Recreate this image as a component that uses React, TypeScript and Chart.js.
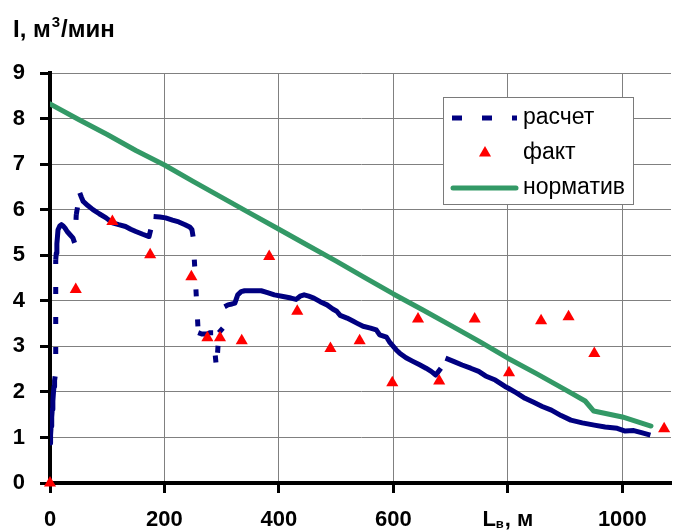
import React, { useEffect, useRef } from 'react';
import { Chart, registerables } from 'chart.js';

Chart.register(...registerables);

const FONT = '"Liberation Sans", Arial, sans-serif';

// "расчет" (calculated) curve
const calcX = [
  0, 1, 2, 3, 4, 5, 6, 7, 8, 9,
  10, 11, 12, 13, 14, 17, 20, 23, 26, 30, 35, 40, 43,
  46, 48, 52, 55, 58, 66, 75, 86, 98, 109, 120, 132, 141, 150, 162, 173, 176,
  181, 192, 202, 214, 225, 236, 244, 248, 250,
  259, 265, 274, 280, 285, 291, 295, 302,
  305, 311, 318, 323, 328, 334, 340, 355, 369, 380, 392, 405, 421, 430, 437, 444, 452, 461, 472, 484, 494, 501, 507, 519, 530, 536, 547, 560, 570, 576, 588, 593, 605, 611, 622, 634, 645, 657, 666, 674, 683,
  691, 705, 720, 735, 749, 761, 778, 795, 801, 815, 830, 845, 860, 876, 893, 910, 930, 951, 970, 991, 1005, 1020, 1035, 1049,
];
const calcY = [
  0.88, 1.05, 1.25, 1.45, 1.62, 1.8, 1.98, 2.12, 2.25, 2.34,
  4.9, 5.05, 5.25, 5.4, 5.56, 5.64, 5.67, 5.64, 5.6, 5.52, 5.45, 5.38, 5.27,
  5.9, 6.05, 6.37, 6.27, 6.18, 6.09, 6.0, 5.91, 5.82, 5.71, 5.67, 5.63, 5.57, 5.52, 5.46, 5.41, 5.56,
  5.85, 5.84, 5.82, 5.77, 5.73, 5.67, 5.62, 5.56, 5.41,
  3.3, 3.27, 3.27, 3.3, 3.3, 2.5, 3.3, 3.4,
  3.87, 3.91, 3.93, 3.95, 4.13, 4.2, 4.22, 4.22, 4.22, 4.18, 4.13, 4.1, 4.06, 4.03, 4.1, 4.13, 4.1, 4.06, 3.98, 3.91, 3.82, 3.77, 3.68, 3.62, 3.55, 3.51, 3.44, 3.4, 3.36, 3.25, 3.2, 3.1, 2.92, 2.85, 2.75, 2.67, 2.6, 2.52, 2.45, 2.37, 2.52,
  2.74, 2.67, 2.59, 2.52, 2.45, 2.35, 2.26, 2.12, 2.08, 1.98, 1.86, 1.77, 1.68, 1.6, 1.48, 1.38, 1.32, 1.27, 1.23, 1.2, 1.14, 1.15, 1.1, 1.05,
];

// "факт" (measured) points
const factX = [0, 45, 109, 175, 247, 275, 297, 335, 383, 432, 490, 541, 598, 643, 680, 742, 802, 858, 906, 951, 1073];
const factY = [0, 4.25, 5.74, 5.01, 4.53, 3.19, 3.19, 3.12, 4.97, 3.77, 2.95, 3.12, 2.2, 3.6, 2.24, 3.6, 2.42, 3.56, 3.65, 2.84, 1.19];

// "норматив" (norm) line
const normX = [0, 50, 100, 150, 200, 250, 300, 350, 400, 450, 500, 550, 600, 650, 700, 750, 800, 850, 900, 935, 950, 1000, 1050];
const normY = [8.32, 7.98, 7.65, 7.3, 6.98, 6.62, 6.27, 5.92, 5.57, 5.22, 4.87, 4.51, 4.15, 3.81, 3.46, 3.11, 2.74, 2.4, 2.05, 1.8, 1.58, 1.45, 1.25];

const seriesNames = ['расчет', 'факт', 'норматив'];
const xAxisMin = 0;
const xAxisMax = 1085;
const xStep = 200;
const yAxisMin = 0;
const yAxisMax = 9;
const yStep = 1;
const xAxisTitleAt = 800;
const yTitleMain = 'I, м';
const yTitleSup = '3';
const yTitleTail = '/мин';
const xTitleMain = 'L';
const xTitleSub = 'в';
const xTitleTail = ', м';

const BLUE = '#000080';
const RED = '#ff0000';
const GREEN = '#339966';

const toPoints = (xs: number[], ys: number[]) => xs.map((x, i) => ({ x, y: ys[i] }));

const titlePlugin = {
  id: 'customTexts',
  afterDraw(chart: any) {
    const ctx = chart.ctx as CanvasRenderingContext2D;
    ctx.save();
    ctx.fillStyle = '#000';
    ctx.textBaseline = 'alphabetic';
    ctx.textAlign = 'left';
    // y-axis title
    let x = 13;
    const base = 37;
    ctx.font = `bold 24px ${FONT}`;
    ctx.fillText(yTitleMain, x, base);
    x += ctx.measureText(yTitleMain).width + 1;
    ctx.font = `bold 15px ${FONT}`;
    ctx.fillText(yTitleSup, x, base - 10);
    x += ctx.measureText(yTitleSup).width + 1;
    ctx.font = `bold 24px ${FONT}`;
    ctx.fillText(yTitleTail, x, base);

    // x-axis title in place of the 800 tick label
    const xs = chart.scales.x;
    const cx = xs.getPixelForValue(xAxisTitleAt);
    const cy = xs.top + 10 + 14 + 13.2;
    ctx.textBaseline = 'middle';
    ctx.font = `bold 22px ${FONT}`;
    const w1 = ctx.measureText(xTitleMain).width;
    const w3 = ctx.measureText(xTitleTail).width;
    ctx.font = `bold 13px ${FONT}`;
    const w2 = ctx.measureText(xTitleSub).width;
    let sx = cx - (w1 + w2 + w3 + 1) / 2;
    ctx.font = `bold 22px ${FONT}`;
    ctx.fillText(xTitleMain, sx, cy);
    sx += w1;
    ctx.font = `bold 13px ${FONT}`;
    ctx.fillText(xTitleSub, sx, cy + 4);
    sx += w2 + 1;
    ctx.font = `bold 22px ${FONT}`;
    ctx.fillText(xTitleTail, sx, cy);
    ctx.restore();
  },
};

const legendPlugin = {
  id: 'boxLegend',
  afterDatasetsDraw(chart: any) {
    const ctx = chart.ctx as CanvasRenderingContext2D;
    const bx = 443.5, by = 97.5, bw = 190, bh = 107;
    ctx.save();
    ctx.fillStyle = '#fff';
    ctx.strokeStyle = '#7a7a7a';
    ctx.lineWidth = 1;
    ctx.fillRect(bx, by, bw, bh);
    ctx.strokeRect(bx, by, bw, bh);
    const rows = [118, 153, 188];
    // calc: dashed
    ctx.strokeStyle = BLUE;
    ctx.lineWidth = 5;
    ctx.lineCap = 'butt';
    ctx.setLineDash([10, 20]);
    ctx.beginPath();
    ctx.moveTo(452, rows[0]);
    ctx.lineTo(517, rows[0]);
    ctx.stroke();
    ctx.setLineDash([]);
    // fact: triangle
    const r = 7;
    const tx = 485, ty = rows[1];
    ctx.fillStyle = RED;
    ctx.beginPath();
    ctx.moveTo(tx, ty - r);
    ctx.lineTo(tx + r * Math.sin((2 * Math.PI) / 3), ty - r * Math.cos((2 * Math.PI) / 3));
    ctx.lineTo(tx + r * Math.sin((4 * Math.PI) / 3), ty - r * Math.cos((4 * Math.PI) / 3));
    ctx.closePath();
    ctx.fill();
    // norm: solid
    ctx.strokeStyle = GREEN;
    ctx.lineCap = 'round';
    ctx.beginPath();
    ctx.moveTo(453, rows[2]);
    ctx.lineTo(516, rows[2]);
    ctx.stroke();
    // texts
    ctx.fillStyle = '#000';
    ctx.font = `23px ${FONT}`;
    ctx.textBaseline = 'middle';
    ctx.textAlign = 'left';
    seriesNames.forEach((n, i) => ctx.fillText(n, 523, rows[i]));
    ctx.restore();
  },
};

export default function App() {
  const ref = useRef<HTMLCanvasElement>(null);
  useEffect(() => {
    const tickFont = { family: FONT, size: 22, weight: 'bold' as const };
    const dashed = (c: any) => {
      const dx = c.p1.x - c.p0.x;
      const dy = c.p1.y - c.p0.y;
      return Math.hypot(dx, dy) > 10 && Math.abs(dy) > 1.2 * Math.abs(dx);
    };
    const chart = new Chart(ref.current as HTMLCanvasElement, {
      type: 'line',
      data: {
        datasets: [
          {
            label: seriesNames[0],
            data: toPoints(calcX, calcY),
            borderColor: BLUE,
            backgroundColor: BLUE,
            borderWidth: 5,
            pointRadius: 0,
            borderCapStyle: 'butt',
            borderJoinStyle: 'round',
            tension: 0,
            order: 2,
            segment: {
              borderDash: (c: any) => (dashed(c) ? [7, 23] : undefined),
              borderDashOffset: (c: any) => (dashed(c) ? 7 : undefined),
            },
          } as any,
          {
            label: seriesNames[1],
            data: toPoints(factX, factY),
            showLine: false,
            pointStyle: 'triangle',
            pointRadius: 7,
            pointBorderWidth: 0,
            pointBackgroundColor: RED,
            pointBorderColor: RED,
            borderColor: RED,
            backgroundColor: RED,
            clip: false,
            order: 0,
          } as any,
          {
            label: seriesNames[2],
            data: toPoints(normX, normY),
            borderColor: GREEN,
            backgroundColor: GREEN,
            borderWidth: 5,
            pointRadius: 0,
            borderCapStyle: 'round',
            borderJoinStyle: 'round',
            tension: 0,
            order: 1,
          } as any,
        ],
      },
      options: {
        animation: false,
        responsive: true,
        maintainAspectRatio: false,
        layout: { padding: { top: 73, left: 0, right: 0, bottom: 0 } },
        plugins: { legend: { display: false }, tooltip: { enabled: false }, title: { display: false } },
        scales: {
          x: {
            type: 'linear',
            position: 'bottom',
            min: xAxisMin,
            max: xAxisMax,
            ticks: {
              stepSize: xStep,
              includeBounds: false,
              autoSkip: false,
              maxRotation: 0,
              color: '#000',
              font: tickFont,
              padding: 14,
              callback: (v: any) => (Number(v) === xAxisTitleAt ? '' : String(v)),
            } as any,
            grid: { color: '#808080', lineWidth: 1, tickLength: 10, tickColor: '#000', tickWidth: 3, drawTicks: true } as any,
            border: { color: '#000', width: 4 },
            afterFit: (s: any) => {
              s.height = 49;
            },
          },
          y: {
            type: 'linear',
            min: yAxisMin,
            max: yAxisMax,
            ticks: { stepSize: yStep, color: '#000', font: tickFont, padding: 15 },
            grid: { color: '#808080', lineWidth: 1, tickLength: 10, tickColor: '#000', tickWidth: 3, drawTicks: true } as any,
            border: { color: '#000', width: 4 },
            afterFit: (s: any) => {
              s.width = 50;
            },
          },
        },
      },
      plugins: [legendPlugin, titlePlugin],
    });
    return () => chart.destroy();
  }, []);
  return (
    <div style={{ position: 'absolute', left: 0, top: 0, width: 678, height: 532, background: '#fff' }}>
      <canvas ref={ref} />
    </div>
  );
}
